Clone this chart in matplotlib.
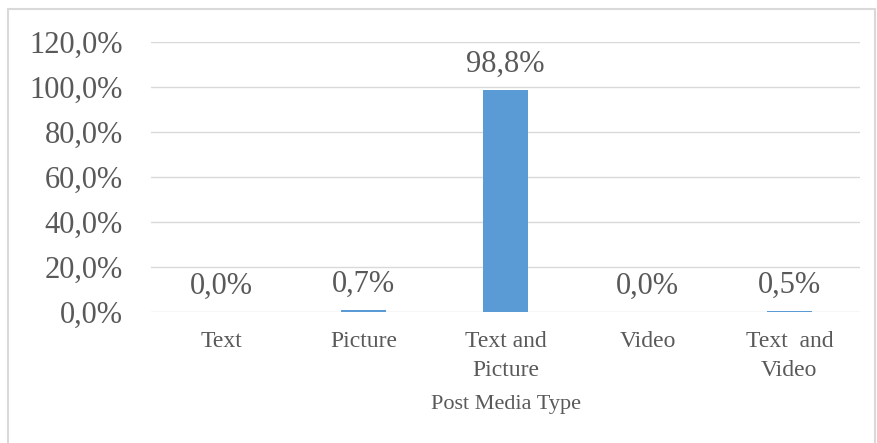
import matplotlib

matplotlib.use("Agg")
import matplotlib.pyplot as plt
from matplotlib.patches import Rectangle
from matplotlib.ticker import FuncFormatter

categorias = ["Text", "Picture", "Text and\nPicture", "Video", "Text  and\nVideo"]
valores = [0.0, 0.007, 0.988, 0.0, 0.005]
rotulos = ["0,0%", "0,7%", "98,8%", "0,0%", "0,5%"]

plt.rcParams["font.family"] = ["Liberation Serif", "DejaVu Serif"]
CINZA = "#595959"

fig = plt.figure(figsize=(8.77, 4.43), dpi=100)
ax = fig.add_axes([0.172, 0.2957, 0.809, 0.6093])

# moldura clara em volta do gráfico
fig.patches.append(Rectangle((8 / 877, -0.05), 867 / 877, 1.05 - 9 / 443,
                             transform=fig.transFigure, fill=False,
                             edgecolor="#d9d9d9", linewidth=1.5))

x = range(len(categorias))
ax.bar(x, valores, width=0.32, color="#5b9bd5", zorder=3)

for xi, v, txt in zip(x, valores, rotulos):
    ax.annotate(txt, (xi, v), xytext=(0, 8), textcoords="offset points",
                ha="center", va="bottom", fontsize=22, color=CINZA)

ax.set_xlim(-0.5, len(categorias) - 0.5)
ax.set_ylim(0, 1.2)
ax.set_yticks([0, 0.2, 0.4, 0.6, 0.8, 1.0, 1.2])
ax.yaxis.set_major_formatter(FuncFormatter(lambda v, _: f"{v * 100:.1f}%".replace(".", ",")))
ax.set_xticks(list(x))
ax.set_xticklabels(categorias, fontsize=17, color=CINZA, linespacing=1.45)
ax.tick_params(axis="y", labelsize=22, labelcolor=CINZA, length=0, pad=20)
ax.tick_params(axis="x", length=0, pad=14)
ax.grid(axis="y", color="#d9d9d9", linewidth=1, zorder=0)
for lado in ax.spines.values():
    lado.set_visible(False)

ax.set_xlabel("Post Media Type", fontsize=16, color=CINZA, labelpad=10)

fig.savefig("out.png", dpi=100)
